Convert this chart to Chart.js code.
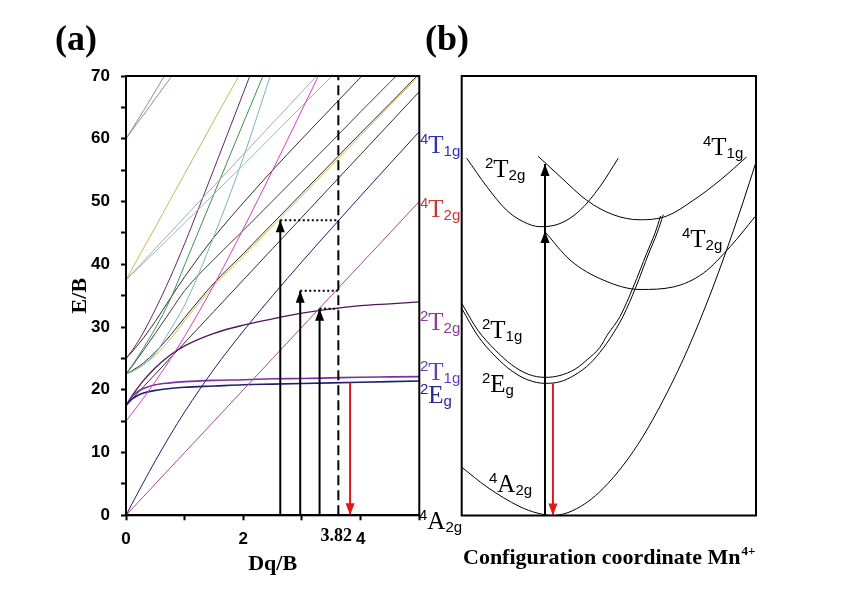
<!DOCTYPE html>
<html>
<head>
<meta charset="utf-8">
<script src="https://cdn.jsdelivr.net/npm/chart.js@4.4.0/dist/chart.umd.min.js"></script>
<style>
html, body { margin: 0; padding: 0; background: #fff; }
#wrap { position: relative; width: 841px; height: 606px; overflow: hidden; }
#chartA { position: absolute; left: 0; top: 0; }
#chartB { position: absolute; left: 420px; top: 0; }
</style>
</head>
<body>
<div id="wrap">
  <canvas id="chartA" width="470" height="606"></canvas>
  <canvas id="chartB" width="421" height="606"></canvas>
</div>
<script>
// ---- panel (a): energy levels (E/B) against Dq/B ----
const dq = [0, 0.1, 0.2, 0.3, 0.5, 0.75, 1, 1.5, 2, 2.5, 3, 3.5, 4, 4.5, 5];

const e4T2g  = [0, 1, 2, 3, 5, 7.5, 10, 15, 20, 25, 30, 35, 40, 45, 50];
const e4T1gF = [0, 1.79, 3.55, 5.29, 8.68, 12.7, 16.48, 23.29, 29.36, 35.0, 40.41, 45.68, 50.88, 56.03, 61.14];
const e4T1gP = [15, 16.21, 17.45, 18.71, 21.32, 24.8, 28.52, 36.71, 45.64, 55.0, 64.59, 74.3, 84.1, 94.0, 103.9];
const e2Eg   = [17.5, 18.5, 19.1, 19.5, 19.9, 20.2, 20.4, 20.6, 20.8, 20.9, 21.0, 21.1, 21.2, 21.3, 21.4];
const e2T1g  = [17.5, 18.9, 19.7, 20.2, 20.8, 21.1, 21.3, 21.5, 21.6, 21.75, 21.8, 21.9, 22.0, 22.05, 22.1];
const e2T2g  = [17.5, 19.0, 20.3, 21.5, 23.5, 25.5, 27.0, 29.0, 30.3, 31.3, 32.2, 32.9, 33.4, 33.7, 34.0];
const e2A1g  = [17.5, 18.5, 19.5, 20.5, 22.5, 25, 27.5, 32.5, 37.5, 42.5, 47.5, 52.5, 57.5, 62.5, 67.5];
const e2A2g  = [37.5, 38.5, 39.5, 40.5, 42.5, 45, 47.5, 52.5, 57.5, 62.5, 67.5, 72.5, 77.5, 82.5, 87.5];
const e2F_b  = [37.5, 38.4, 39.3, 40.2, 42.0, 44.3, 46.6, 51.2, 55.8, 60.5, 65.2, 69.9, 74.6, 79.3, 84];
const e2F_c  = [37.5, 39.2, 40.9, 42.6, 45.9, 50.2, 54.4, 62.9, 71.3, 79.8, 88.2, 96.7, 105, 113.6, 122];
const e2D2_a = [60, 61.5, 63.0, 64.5, 67.6, 71.5, 75.4, 83, 91, 99, 107, 115, 123, 131, 139];
const e2D2_b = [60, 61.3, 62.6, 63.8, 66.4, 69.6, 72.8, 79.2, 85.6, 92, 98.4, 104.8, 111, 117.6, 124];
const e2H_a  = [25, 26.2, 27.6, 29.2, 32.8, 37.8, 43.3, 55.2, 67.3, 79.5, 91.7, 103.9, 116, 128, 140];
const e2H_b  = [22.5, 23.8, 25.2, 26.7, 29.8, 34.3, 39.9, 51.2, 62.5, 73.7, 85, 96, 107, 118, 130];
const e2H_c  = [22.5, 22.9, 23.4, 24.0, 25.8, 29.5, 33.5, 44.5, 57, 71.2, 85, 99, 113, 127, 141];
const e2D_a  = [25, 26, 27.1, 28.3, 30.9, 34.5, 38.0, 44.3, 49.8, 55.0, 60.0, 64.9, 69.8, 74.7, 79.6];
const e2H_d  = [22.5, 23.7, 25.0, 26.3, 29.0, 32.4, 35.8, 40.8, 45.4, 50.1, 54.8, 59.5, 64.3, 69.0, 73.7];
const e2P_a  = [22.5, 22.9, 23.4, 24.0, 25.5, 28.0, 31.0, 36.6, 41.3, 46.1, 50.9, 55.7, 60.5, 65.3, 70.1];
const e2H_e  = [22.5, 23.0, 23.6, 24.3, 26.0, 28.6, 31.5, 37.0, 41.7, 46.5, 51.3, 56.1, 60.9, 65.6, 70.4];

const dqTicks = [0, 2, 4];
const ebTicks = [0, 10, 20, 30, 40, 50, 60, 70];

// excitation arrows, dashed Dq/B line and the red emission
const pumpX = [2.63, 2.97, 3.3];
const pumpTop = [47.0, 35.8, 32.9];
const dashX = 3.62;
const emitX = 3.82;
const emitTop = 21.2;

// ---- panel (b): configurational coordinate curves ----
const q4A2g = [0, 0.86, 1.98, 2.56, 3.1, 3.44, 3.78, 4.29, 4.8, 5.48, 6.16, 6.84, 7.52, 8.2, 8.88, 9.56, 10.0];
const c4A2g = [7.7, 4.54, 1.4, 0.4, 0, 0.22, 0.79, 2.21, 4.28, 7.95, 12.6, 18.3, 24.8, 32.3, 40.7, 49.9, 56.3];
const q2T1g = [0, 0.55, 1.13, 1.70, 2.26, 2.83, 3.34, 3.85, 4.26, 4.70, 4.94, 5.38, 5.83, 6.29, 6.57, 6.76];
const c2T1g = [33.8, 29.5, 26.4, 24.0, 22.5, 22.0, 22.3, 23.3, 24.8, 26.8, 28.7, 31.7, 36.4, 41.8, 45.0, 47.7];
const q2Eg  = [0, 0.55, 1.13, 1.71, 2.25, 2.83, 3.34, 3.85, 4.36, 4.8, 5.04, 5.48, 5.92, 6.36, 6.64, 6.85];
const c2Eg  = [33.0, 28.6, 25.4, 23.0, 21.6, 21.05, 21.3, 22.4, 24.2, 26.6, 28.2, 31.7, 36.4, 41.8, 45.0, 47.9];
const q2T2g = [0.17, 0.85, 1.53, 2.09, 2.66, 3.34, 4.02, 4.7, 5.32];
const c2T2g = [56.9, 52.4, 48.6, 46.8, 46.0, 46.5, 48.6, 52.4, 56.9];
const q4T1g = [2.6, 3.34, 4.25, 5.15, 6.06, 6.97, 7.87, 8.78, 9.68];
const c4T1g = [57.2, 54.0, 50.2, 47.9, 47.1, 47.7, 50.2, 53.4, 57.1];
const q4T2g = [2.83, 3.68, 4.81, 6.06, 7.19, 8.21, 9.12, 9.97];
const c4T2g = [45.2, 40.7, 37.5, 36.0, 36.4, 38.6, 42.8, 47.6];

const absQ = 2.83;
const absMid = 45.3;
const absTop = 56.0;
const emQ = 3.1;
const emTop = 21.05;

const serif = '"Liberation Serif", "Times New Roman", serif';
const sans = '"Liberation Sans", Arial, sans-serif';

function pts(xs, ys) {
    return xs.map((x, i) => ({ x: x, y: ys[i] }));
}

function curve(xs, ys, color, width) {
    return {
        data: pts(xs, ys), borderColor: color, borderWidth: width || 1,
        pointRadius: 0, fill: false, cubicInterpolationMode: 'monotone', order: 1
    };
}

function seg(x0, y0, x1, y1, color, dash, head) {
    return {
        data: [{ x: x0, y: y0 }, { x: x1, y: y1 }], borderColor: color, borderWidth: 2,
        borderDash: dash || [], pointRadius: 0, fill: false, arrow: head, order: 0
    };
}

function drawState(ctx, x, base, sup, main, sub, color) {
    ctx.save();
    ctx.fillStyle = color;
    ctx.textAlign = 'left';
    ctx.textBaseline = 'alphabetic';
    ctx.font = '15px ' + sans;
    ctx.fillText(sup, x, base - 9);
    const w1 = ctx.measureText(sup).width;
    ctx.font = '25px ' + serif;
    ctx.fillText(main, x + w1, base);
    const w2 = ctx.measureText(main).width;
    ctx.font = '15px ' + sans;
    ctx.fillText(sub, x + w1 + w2, base + 3);
    ctx.restore();
}

const arrowHeads = {
    id: 'arrowHeads',
    afterDatasetsDraw(chart) {
        const ctx = chart.ctx;
        chart.data.datasets.forEach((ds, i) => {
            if (!ds.arrow) return;
            const p = chart.getDatasetMeta(i).data;
            const a = p[0], b = p[1];
            const ang = Math.atan2(b.y - a.y, b.x - a.x);
            ctx.save();
            ctx.fillStyle = ds.borderColor;
            ctx.translate(b.x, b.y);
            ctx.rotate(ang);
            ctx.beginPath();
            ctx.moveTo(0, 0);
            ctx.lineTo(-12, -4.5);
            ctx.lineTo(-12, 4.5);
            ctx.closePath();
            ctx.fill();
            ctx.restore();
        });
    }
};

const frame = {
    id: 'frame',
    afterDatasetsDraw(chart) {
        const a = chart.chartArea, ctx = chart.ctx;
        ctx.save();
        ctx.strokeStyle = '#000';
        ctx.lineWidth = 2;
        ctx.strokeRect(a.left, a.top, a.right - a.left, a.bottom - a.top);
        ctx.restore();
    }
};

// ---------- chart (a) ----------
const levelsA = [
    curve(dq, e4T2g, '#a05080'),
    curve(dq, e4T1gF, '#1e1e6e'),
    curve(dq, e4T1gP, '#d63cc8'),
    curve(dq, e2Eg, '#202070', 1.6),
    curve(dq, e2T1g, '#7a30a0', 1.6),
    curve(dq, e2T2g, '#501458', 1.3),
    curve(dq, e2A1g, '#303030'),
    curve(dq, e2A2g, '#a8a8a8'),
    curve(dq, e2F_b, '#90b8c8'),
    curve(dq, e2F_c, '#bcbc5a'),
    curve(dq, e2D2_a, '#8c8c8c'),
    curve(dq, e2D2_b, '#7c9c7c'),
    curve(dq, e2H_a, '#602868'),
    curve(dq, e2H_b, '#3c9050'),
    curve(dq, e2H_c, '#78b4c4'),
    curve(dq, e2D_a, '#303030'),
    curve(dq, e2H_d, '#404040'),
    curve(dq, e2P_a, '#d4bc48'),
    curve(dq, e2H_e, '#282828')
];

const marksA = [seg(dashX, 0, dashX, 70, '#000', [10, 5], false),
                seg(emitX, emitTop, emitX, 0, '#e01818', [], true)];
pumpX.forEach((x, i) => {
    marksA.push(seg(x, 0, x, pumpTop[i], '#000', [], true));
    marksA.push(seg(x, pumpTop[i], dashX, pumpTop[i], '#000', [2, 2.5], false));
});

const textA = {
    id: 'textA',
    afterDraw(chart) {
        const ctx = chart.ctx;
        const xs = chart.scales.x;
        ctx.save();
        ctx.fillStyle = '#000';
        ctx.font = 'bold 36px ' + serif;
        ctx.textBaseline = 'alphabetic';
        ctx.fillText('(a)', 55, 50);
        ctx.font = 'bold 18px ' + serif;
        ctx.textAlign = 'right';
        ctx.fillText(String(emitX), xs.getPixelForValue(emitX) + 2, 541);
        ctx.restore();
        drawState(ctx, 420, 153, '4', 'T', '1g', '#3030c0');
        drawState(ctx, 420, 217, '4', 'T', '2g', '#c83838');
        drawState(ctx, 420, 330, '2', 'T', '2g', '#8c3c9c');
        drawState(ctx, 420, 380, '2', 'T', '1g', '#6a3cc0');
        drawState(ctx, 420, 403, '2', 'E', 'g', '#282890');
        drawState(ctx, 419, 529, '4', 'A', '2g', '#000');
    }
};

new Chart(document.getElementById('chartA'), {
    type: 'line',
    data: { datasets: marksA.concat(levelsA) },
    options: {
        responsive: false,
        animation: false,
        layout: { padding: { left: 64, right: 50.7, top: 76, bottom: 20 } },
        plugins: { legend: { display: false }, tooltip: { enabled: false } },
        scales: {
            x: {
                type: 'linear', min: 0, max: 5,
                afterFit(s) { s.height = 70.7; },
                ticks: {
                    stepSize: 1, padding: 9, color: '#000', maxRotation: 0, autoSkip: false,
                    font: { family: sans, size: 17, weight: 'bold' },
                    callback: v => dqTicks.includes(v) ? String(v) : ''
                },
                grid: { drawOnChartArea: false, drawTicks: true, tickLength: 5, tickWidth: 2, tickColor: '#000' },
                border: { display: true, color: '#000', width: 2 },
                title: {
                    display: true, text: 'Dq/B', color: '#000',
                    font: { family: serif, size: 22, weight: 'bold' }, padding: { top: 0, bottom: 8 }
                }
            },
            y: {
                min: 0, max: 70,
                afterFit(s) { s.width = 62; },
                ticks: {
                    stepSize: 5, padding: 11, color: '#000',
                    font: { family: sans, size: 17, weight: 'bold' },
                    callback: v => ebTicks.includes(v) ? String(v) : ''
                },
                grid: { drawOnChartArea: false, drawTicks: true, tickLength: 5, tickWidth: 2, tickColor: '#000' },
                border: { display: true, color: '#000', width: 2 },
                title: {
                    display: true, text: 'E/B', color: '#000',
                    font: { family: serif, size: 22, weight: 'bold' }, padding: { top: 3, bottom: 0 }
                }
            }
        }
    },
    plugins: [frame, arrowHeads, textA]
});

// ---------- chart (b) ----------
const textB = {
    id: 'textB',
    afterDraw(chart) {
        const ctx = chart.ctx;
        const ox = 420;
        ctx.save();
        ctx.fillStyle = '#000';
        ctx.textBaseline = 'alphabetic';
        ctx.font = 'bold 36px ' + serif;
        ctx.fillText('(b)', 425 - ox, 50);
        ctx.font = 'bold 22px ' + serif;
        const t = 'Configuration coordinate Mn';
        ctx.fillText(t, 463 - ox, 564);
        const w = ctx.measureText(t).width;
        ctx.font = 'bold 13px ' + serif;
        ctx.fillText('4+', 463 - ox + w + 1, 555);
        ctx.restore();
        drawState(ctx, 485 - ox, 177, '2', 'T', '2g', '#000');
        drawState(ctx, 703 - ox, 155, '4', 'T', '1g', '#000');
        drawState(ctx, 682 - ox, 247, '4', 'T', '2g', '#000');
        drawState(ctx, 482 - ox, 338, '2', 'T', '1g', '#000');
        drawState(ctx, 482 - ox, 392, '2', 'E', 'g', '#000');
        drawState(ctx, 489 - ox, 492, '4', 'A', '2g', '#000');
    }
};

new Chart(document.getElementById('chartB'), {
    type: 'line',
    data: {
        datasets: [
            seg(absQ, 0, absQ, absMid, '#000', [], true),
            seg(absQ, absMid, absQ, absTop, '#000', [], true),
            seg(emQ, emTop, emQ, 0, '#e01818', [], true),
            curve(q4A2g, c4A2g, '#000'),
            curve(q2T1g, c2T1g, '#000'),
            curve(q2Eg, c2Eg, '#000'),
            curve(q2T2g, c2T2g, '#000'),
            curve(q4T1g, c4T1g, '#000'),
            curve(q4T2g, c4T2g, '#000')
        ]
    },
    options: {
        responsive: false,
        animation: false,
        layout: { padding: { left: 41.7, right: 85, top: 76, bottom: 90.5 } },
        plugins: { legend: { display: false }, tooltip: { enabled: false } },
        scales: {
            x: { type: 'linear', min: 0, max: 10, display: false },
            y: { min: 0, max: 70, display: false }
        }
    },
    plugins: [frame, arrowHeads, textB]
});
</script>
</body>
</html>
